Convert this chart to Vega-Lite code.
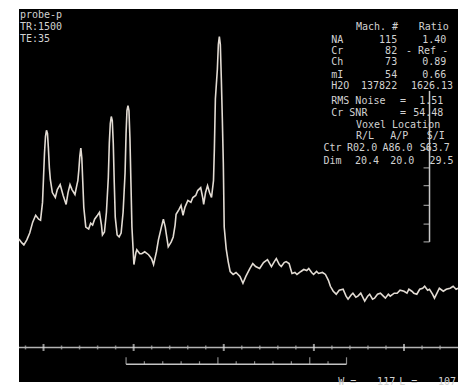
{
  "$schema": "https://vega.github.io/schema/vega-lite/v6.json",
  "width": 462,
  "height": 387,
  "autosize": {"type": "fit", "contains": "padding"},
  "padding": {"left": 15, "top": 9, "right": 0, "bottom": 0},
  "background": "white",
  "config": {"view": {"fill": "black", "stroke": null}},
  "datasets": {
    "spectrum": [
      {"ppm": 4.273, "amp": 145}, {"ppm": 4.240, "amp": 141}, {"ppm": 4.218, "amp": 139}, {"ppm": 4.185, "amp": 144},
      {"ppm": 4.153, "amp": 151}, {"ppm": 4.120, "amp": 162}, {"ppm": 4.087, "amp": 169}, {"ppm": 4.054, "amp": 165},
      {"ppm": 4.033, "amp": 164}, {"ppm": 4.011, "amp": 182}, {"ppm": 4.000, "amp": 207}, {"ppm": 3.989, "amp": 232},
      {"ppm": 3.978, "amp": 249}, {"ppm": 3.967, "amp": 255}, {"ppm": 3.956, "amp": 252}, {"ppm": 3.946, "amp": 237},
      {"ppm": 3.935, "amp": 217}, {"ppm": 3.924, "amp": 205}, {"ppm": 3.902, "amp": 192}, {"ppm": 3.869, "amp": 187},
      {"ppm": 3.847, "amp": 195}, {"ppm": 3.815, "amp": 200}, {"ppm": 3.782, "amp": 189}, {"ppm": 3.749, "amp": 180},
      {"ppm": 3.728, "amp": 192}, {"ppm": 3.706, "amp": 200}, {"ppm": 3.684, "amp": 195}, {"ppm": 3.651, "amp": 190},
      {"ppm": 3.629, "amp": 200}, {"ppm": 3.619, "amp": 204}, {"ppm": 3.608, "amp": 215}, {"ppm": 3.597, "amp": 229},
      {"ppm": 3.586, "amp": 237}, {"ppm": 3.575, "amp": 227}, {"ppm": 3.564, "amp": 202}, {"ppm": 3.553, "amp": 177},
      {"ppm": 3.531, "amp": 157}, {"ppm": 3.499, "amp": 155}, {"ppm": 3.477, "amp": 161}, {"ppm": 3.455, "amp": 159},
      {"ppm": 3.433, "amp": 165}, {"ppm": 3.401, "amp": 169}, {"ppm": 3.379, "amp": 172}, {"ppm": 3.357, "amp": 159},
      {"ppm": 3.346, "amp": 149}, {"ppm": 3.324, "amp": 152}, {"ppm": 3.302, "amp": 172}, {"ppm": 3.281, "amp": 207},
      {"ppm": 3.270, "amp": 242}, {"ppm": 3.259, "amp": 262}, {"ppm": 3.248, "amp": 269}, {"ppm": 3.237, "amp": 265},
      {"ppm": 3.226, "amp": 242}, {"ppm": 3.215, "amp": 202}, {"ppm": 3.204, "amp": 167}, {"ppm": 3.183, "amp": 149},
      {"ppm": 3.161, "amp": 147}, {"ppm": 3.139, "amp": 151}, {"ppm": 3.117, "amp": 172}, {"ppm": 3.095, "amp": 212},
      {"ppm": 3.084, "amp": 252}, {"ppm": 3.074, "amp": 275}, {"ppm": 3.063, "amp": 280}, {"ppm": 3.052, "amp": 275},
      {"ppm": 3.041, "amp": 247}, {"ppm": 3.030, "amp": 202}, {"ppm": 3.019, "amp": 157}, {"ppm": 2.997, "amp": 119},
      {"ppm": 2.975, "amp": 131}, {"ppm": 2.965, "amp": 134}, {"ppm": 2.932, "amp": 130}, {"ppm": 2.910, "amp": 130},
      {"ppm": 2.877, "amp": 132}, {"ppm": 2.834, "amp": 129}, {"ppm": 2.801, "amp": 125}, {"ppm": 2.779, "amp": 119},
      {"ppm": 2.747, "amp": 132}, {"ppm": 2.725, "amp": 144}, {"ppm": 2.692, "amp": 157}, {"ppm": 2.670, "amp": 165},
      {"ppm": 2.649, "amp": 157}, {"ppm": 2.638, "amp": 150}, {"ppm": 2.616, "amp": 137}, {"ppm": 2.583, "amp": 142},
      {"ppm": 2.561, "amp": 147}, {"ppm": 2.540, "amp": 159}, {"ppm": 2.529, "amp": 170}, {"ppm": 2.496, "amp": 175},
      {"ppm": 2.474, "amp": 179}, {"ppm": 2.452, "amp": 169}, {"ppm": 2.431, "amp": 177}, {"ppm": 2.398, "amp": 184},
      {"ppm": 2.365, "amp": 182}, {"ppm": 2.343, "amp": 187}, {"ppm": 2.311, "amp": 189}, {"ppm": 2.289, "amp": 194},
      {"ppm": 2.256, "amp": 197}, {"ppm": 2.234, "amp": 187}, {"ppm": 2.223, "amp": 180}, {"ppm": 2.202, "amp": 192},
      {"ppm": 2.180, "amp": 199}, {"ppm": 2.158, "amp": 192}, {"ppm": 2.136, "amp": 187}, {"ppm": 2.114, "amp": 204},
      {"ppm": 2.104, "amp": 237}, {"ppm": 2.093, "amp": 287}, {"ppm": 2.071, "amp": 317}, {"ppm": 2.060, "amp": 342},
      {"ppm": 2.049, "amp": 350}, {"ppm": 2.038, "amp": 342}, {"ppm": 2.027, "amp": 307}, {"ppm": 2.016, "amp": 267},
      {"ppm": 2.005, "amp": 222}, {"ppm": 1.995, "amp": 157}, {"ppm": 1.973, "amp": 135}, {"ppm": 1.951, "amp": 122},
      {"ppm": 1.929, "amp": 112}, {"ppm": 1.896, "amp": 109}, {"ppm": 1.864, "amp": 111}, {"ppm": 1.820, "amp": 107},
      {"ppm": 1.787, "amp": 100}, {"ppm": 1.755, "amp": 107}, {"ppm": 1.711, "amp": 115}, {"ppm": 1.678, "amp": 120},
      {"ppm": 1.646, "amp": 117}, {"ppm": 1.602, "amp": 115}, {"ppm": 1.559, "amp": 121}, {"ppm": 1.515, "amp": 124},
      {"ppm": 1.471, "amp": 117}, {"ppm": 1.439, "amp": 122}, {"ppm": 1.417, "amp": 125}, {"ppm": 1.384, "amp": 119},
      {"ppm": 1.362, "amp": 117}, {"ppm": 1.330, "amp": 121}, {"ppm": 1.308, "amp": 122}, {"ppm": 1.275, "amp": 120},
      {"ppm": 1.243, "amp": 110}, {"ppm": 1.210, "amp": 111}, {"ppm": 1.188, "amp": 109}, {"ppm": 1.144, "amp": 112},
      {"ppm": 1.112, "amp": 114}, {"ppm": 1.079, "amp": 113}, {"ppm": 1.057, "amp": 115}, {"ppm": 1.025, "amp": 111},
      {"ppm": 1.003, "amp": 109}, {"ppm": 0.970, "amp": 112}, {"ppm": 0.948, "amp": 110}, {"ppm": 0.905, "amp": 111},
      {"ppm": 0.872, "amp": 109}, {"ppm": 0.839, "amp": 103}, {"ppm": 0.817, "amp": 97}, {"ppm": 0.785, "amp": 92},
      {"ppm": 0.752, "amp": 89}, {"ppm": 0.719, "amp": 93}, {"ppm": 0.676, "amp": 94}, {"ppm": 0.643, "amp": 87},
      {"ppm": 0.621, "amp": 84}, {"ppm": 0.589, "amp": 88}, {"ppm": 0.567, "amp": 90}, {"ppm": 0.534, "amp": 86},
      {"ppm": 0.512, "amp": 87}, {"ppm": 0.480, "amp": 90}, {"ppm": 0.436, "amp": 82}, {"ppm": 0.403, "amp": 87},
      {"ppm": 0.381, "amp": 89}, {"ppm": 0.349, "amp": 84}, {"ppm": 0.327, "amp": 85}, {"ppm": 0.294, "amp": 89},
      {"ppm": 0.262, "amp": 90}, {"ppm": 0.229, "amp": 87}, {"ppm": 0.207, "amp": 85}, {"ppm": 0.174, "amp": 89},
      {"ppm": 0.153, "amp": 87}, {"ppm": 0.109, "amp": 90}, {"ppm": 0.076, "amp": 90}, {"ppm": 0.044, "amp": 93},
      {"ppm": 0.000, "amp": 92}, {"ppm": -0.033, "amp": 90}, {"ppm": -0.054, "amp": 94}, {"ppm": -0.087, "amp": 92},
      {"ppm": -0.109, "amp": 90}, {"ppm": -0.142, "amp": 89}, {"ppm": -0.174, "amp": 94}, {"ppm": -0.207, "amp": 95},
      {"ppm": -0.229, "amp": 97}, {"ppm": -0.262, "amp": 93}, {"ppm": -0.283, "amp": 94}, {"ppm": -0.316, "amp": 89},
      {"ppm": -0.338, "amp": 85}, {"ppm": -0.371, "amp": 91}, {"ppm": -0.392, "amp": 95}, {"ppm": -0.436, "amp": 92},
      {"ppm": -0.469, "amp": 94}, {"ppm": -0.512, "amp": 95}, {"ppm": -0.545, "amp": 97}, {"ppm": -0.578, "amp": 94},
      {"ppm": -0.599, "amp": 95}
    ],
    "axisLine": [{"from": 4.272, "to": -0.599, "amp": 35}],
    "minorTicks": [
      {"ppm": 4.2}, {"ppm": 3.8}, {"ppm": 3.6}, {"ppm": 3.4}, {"ppm": 3.2}, {"ppm": 2.8}, {"ppm": 2.6},
      {"ppm": 2.4}, {"ppm": 2.2}, {"ppm": 1.8}, {"ppm": 1.6}, {"ppm": 1.4}, {"ppm": 1.2}, {"ppm": 0.8},
      {"ppm": 0.6}, {"ppm": 0.4}, {"ppm": 0.2}, {"ppm": -0.2}, {"ppm": -0.4}
    ],
    "majorTicks": [{"ppm": 4}, {"ppm": 3}, {"ppm": 2}, {"ppm": 1}, {"ppm": 0}],
    "bracketLine": [{"from": 3.084, "to": 0.638, "amp": 18}],
    "bracketSmall": [
      {"ppm": 2.881}, {"ppm": 2.677}, {"ppm": 2.473}, {"ppm": 2.269}, {"ppm": 1.862},
      {"ppm": 1.658}, {"ppm": 1.454}, {"ppm": 1.250}, {"ppm": 0.843}
    ],
    "bracketTall": [{"ppm": 3.084}, {"ppm": 2.065}, {"ppm": 1.046}, {"ppm": 0.638}],
    "scaleBar": [{"ppm": -0.283, "lo": 142, "hi": 295}],
    "scaleTicks": [{"amp": 142}, {"amp": 160}, {"amp": 179}, {"amp": 199}, {"amp": 217}, {"amp": 236}],
    "leftText": [
      {"ppm": 4.262, "amp": 372, "text": "probe-p"},
      {"ppm": 4.262, "amp": 360, "text": "TR:1500"},
      {"ppm": 4.262, "amp": 348, "text": "TE:35"},
      {"ppm": 0.534, "amp": 360, "text": "Mach. #"},
      {"ppm": -0.163, "amp": 360, "text": "Ratio"},
      {"ppm": 0.807, "amp": 347, "text": "NA"},
      {"ppm": 0.807, "amp": 335, "text": "Cr"},
      {"ppm": 0.807, "amp": 324, "text": "Ch"},
      {"ppm": 0.807, "amp": 311, "text": "mI"},
      {"ppm": 0.807, "amp": 300, "text": "H2O"},
      {"ppm": 0.807, "amp": 285, "text": "RMS Noise"},
      {"ppm": 0.044, "amp": 285, "text": "="},
      {"ppm": 0.807, "amp": 273, "text": "Cr SNR"},
      {"ppm": 0.044, "amp": 273, "text": "="},
      {"ppm": 0.534, "amp": 260, "text": "Voxel Location"},
      {"ppm": 0.534, "amp": 249, "text": "R/L"},
      {"ppm": 0.153, "amp": 249, "text": "A/P"},
      {"ppm": -0.251, "amp": 249, "text": "S/I"},
      {"ppm": 0.894, "amp": 237, "text": "Ctr"},
      {"ppm": 0.632, "amp": 237, "text": "R02.0"},
      {"ppm": 0.240, "amp": 237, "text": "A86.0"},
      {"ppm": -0.174, "amp": 237, "text": "S63.7"},
      {"ppm": 0.894, "amp": 224, "text": "Dim"},
      {"ppm": 0.545, "amp": 224, "text": "20.4"},
      {"ppm": 0.153, "amp": 224, "text": "20.0"},
      {"ppm": -0.283, "amp": 224, "text": "29.5"},
      {"ppm": 0.730, "amp": 0.5, "text": "W ="},
      {"ppm": 0.054, "amp": 0.5, "text": "L ="}
    ],
    "rightText": [
      {"ppm": 0.076, "amp": 347, "text": "115"},
      {"ppm": -0.469, "amp": 347, "text": "1.40"},
      {"ppm": 0.076, "amp": 335, "text": "82"},
      {"ppm": -0.490, "amp": 335, "text": "- Ref -"},
      {"ppm": 0.076, "amp": 324, "text": "73"},
      {"ppm": -0.469, "amp": 324, "text": "0.89"},
      {"ppm": 0.076, "amp": 311, "text": "54"},
      {"ppm": -0.469, "amp": 311, "text": "0.66"},
      {"ppm": 0.076, "amp": 300, "text": "137822"},
      {"ppm": -0.545, "amp": 300, "text": "1626.13"},
      {"ppm": -0.436, "amp": 285, "text": "1.51"},
      {"ppm": -0.436, "amp": 273, "text": "54.48"},
      {"ppm": 0.098, "amp": 0.5, "text": "117"},
      {"ppm": -0.578, "amp": 0.5, "text": "107"}
    ]
  },
  "resolve": {"scale": {"x": "shared", "y": "shared"}},
  "layer": [
    {
      "data": {"name": "axisLine"},
      "mark": {"type": "rule", "color": "#b4b4b4", "strokeWidth": 1.5},
      "encoding": {
        "x": {"field": "from", "type": "quantitative", "scale": {"domain": [4.272, -0.599], "nice": false, "zero": false}, "axis": null},
        "x2": {"field": "to"},
        "y": {"field": "amp", "type": "quantitative", "scale": {"domain": [0, 378], "nice": false, "zero": false}, "axis": null}
      }
    },
    {
      "data": {"name": "minorTicks"},
      "mark": {"type": "tick", "orient": "vertical", "size": 4, "thickness": 1.5, "color": "#b4b4b4"},
      "encoding": {
        "x": {"field": "ppm", "type": "quantitative"},
        "y": {"datum": 35, "type": "quantitative"}
      }
    },
    {
      "data": {"name": "majorTicks"},
      "mark": {"type": "tick", "orient": "vertical", "size": 7, "thickness": 2, "color": "#d8d8d8"},
      "encoding": {
        "x": {"field": "ppm", "type": "quantitative"},
        "y": {"datum": 35, "type": "quantitative"}
      }
    },
    {
      "data": {"name": "bracketLine"},
      "mark": {"type": "rule", "color": "#c4c4c4", "strokeWidth": 1.3},
      "encoding": {
        "x": {"field": "from", "type": "quantitative"},
        "x2": {"field": "to"},
        "y": {"field": "amp", "type": "quantitative"}
      }
    },
    {
      "data": {"name": "bracketSmall"},
      "mark": {"type": "tick", "orient": "vertical", "size": 3, "thickness": 1.2, "color": "#c4c4c4"},
      "encoding": {
        "x": {"field": "ppm", "type": "quantitative"},
        "y": {"datum": 19.5, "type": "quantitative"}
      }
    },
    {
      "data": {"name": "bracketTall"},
      "mark": {"type": "tick", "orient": "vertical", "size": 7, "thickness": 1.2, "color": "#c4c4c4"},
      "encoding": {
        "x": {"field": "ppm", "type": "quantitative"},
        "y": {"datum": 21.5, "type": "quantitative"}
      }
    },
    {
      "data": {"name": "scaleBar"},
      "mark": {"type": "rule", "color": "#c8c8c8", "strokeWidth": 1.5},
      "encoding": {
        "x": {"field": "ppm", "type": "quantitative"},
        "y": {"field": "lo", "type": "quantitative"},
        "y2": {"field": "hi"}
      }
    },
    {
      "data": {"name": "scaleTicks"},
      "mark": {"type": "tick", "orient": "horizontal", "size": 6, "thickness": 1.3, "color": "#c8c8c8"},
      "encoding": {
        "x": {"datum": -0.25, "type": "quantitative"},
        "y": {"field": "amp", "type": "quantitative"}
      }
    },
    {
      "data": {"name": "spectrum"},
      "mark": {"type": "line", "color": "#e2dbd3", "strokeWidth": 1.6, "interpolate": "linear"},
      "encoding": {
        "x": {"field": "ppm", "type": "quantitative"},
        "y": {"field": "amp", "type": "quantitative"}
      }
    },
    {
      "data": {"name": "leftText"},
      "mark": {"type": "text", "align": "left", "baseline": "middle", "font": "DejaVu Sans Mono", "fontSize": 10, "color": "#d2d2d2"},
      "encoding": {
        "x": {"field": "ppm", "type": "quantitative"},
        "y": {"field": "amp", "type": "quantitative"},
        "text": {"field": "text"}
      }
    },
    {
      "data": {"name": "rightText"},
      "mark": {"type": "text", "align": "right", "baseline": "middle", "font": "DejaVu Sans Mono", "fontSize": 10, "color": "#d2d2d2"},
      "encoding": {
        "x": {"field": "ppm", "type": "quantitative"},
        "y": {"field": "amp", "type": "quantitative"},
        "text": {"field": "text"}
      }
    }
  ]
}
